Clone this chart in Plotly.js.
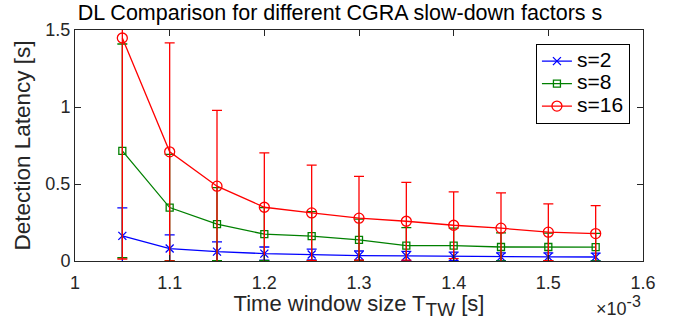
<!DOCTYPE html>
<html>
<head>
<meta charset="utf-8">
<script src="https://cdn.plot.ly/plotly-3.0.1.min.js"></script>
<style>html,body{margin:0;padding:0;background:#fff;}#chart{width:680px;height:320px;}</style>
</head>
<body>
<div id="chart"></div>
<script>
// Time window size (x 10^-3 s)
const timeWindow = [1.05, 1.10, 1.15, 1.20, 1.25, 1.30, 1.35, 1.40, 1.45, 1.50, 1.55];

// Mean detection latency [s]
const s2Mean  = [0.163, 0.081, 0.061, 0.048, 0.042, 0.035, 0.033, 0.030, 0.027, 0.027, 0.026];
const s8Mean  = [0.715, 0.347, 0.239, 0.174, 0.161, 0.137, 0.100, 0.100, 0.091, 0.091, 0.090];
const s16Mean = [1.448, 0.709, 0.486, 0.349, 0.312, 0.278, 0.258, 0.232, 0.213, 0.187, 0.178];

// Error (symmetric) [s]
const s2Err  = [0.182, 0.088, 0.063, 0.043, 0.035, 0.030, 0.030, 0.028, 0.026, 0.026, 0.025];
const s8Err  = [0.694, 0.345, 0.237, 0.172, 0.160, 0.135, 0.117, 0.113, 0.091, 0.090, 0.089];
const s16Err = [1.435, 0.708, 0.492, 0.353, 0.310, 0.272, 0.252, 0.217, 0.229, 0.184, 0.182];

const seriesNames = ['s=2', 's=8', 's=16'];
const xTickVals = [1, 1.1, 1.2, 1.3, 1.4, 1.5, 1.6];
const xTickText = ['1', '1.1', '1.2', '1.3', '1.4', '1.5', '1.6'];
const yTickVals = [0, 0.5, 1, 1.5];
const yTickText = ['0', '0.5', '1', '1.5'];

function mk(name, y, err, color, symbol, size) {
  return {
    x: timeWindow, y: y,
    name: '<span style="font-size:21px">' + name + '</span>',
    type: 'scatter', mode: 'lines+markers',
    line: {color: color, width: 1.3},
    marker: {symbol: symbol, size: size, color: color, line: {color: color, width: 1.3}},
    error_y: {type: 'data', array: err, symmetric: true, color: color, thickness: 1.3, width: 5, visible: true}
  };
}

const data = [
  mk(seriesNames[0], s2Mean, s2Err, '#0000ff', 'x-thin-open', 8),
  mk(seriesNames[1], s8Mean, s8Err, '#008000', 'square-open', 7),
  mk(seriesNames[2], s16Mean, s16Err, '#ff0000', 'circle-open', 10)
];

const font = 'Liberation Sans, Arial, sans-serif';
const layout = {
  width: 680, height: 320,
  margin: {l: 75, r: 37, t: 30, b: 59},
  paper_bgcolor: '#ffffff', plot_bgcolor: '#ffffff',
  font: {family: font, color: '#262626', size: 18},
  title: {text: 'DL Comparison for different CGRA slow-down factors s', font: {family: font, size: 21.5, color: '#000'}, x: 0.5, xanchor: 'center', y: 0.985, yanchor: 'top'},
  xaxis: {
    range: [1, 1.6], tickvals: xTickVals, ticktext: xTickText,
    ticks: 'inside', ticklen: 6, tickcolor: '#262626', mirror: 'ticks',
    showline: true, linecolor: '#262626', linewidth: 1, showgrid: false, zeroline: false,
    tickfont: {size: 18, family: font, color: '#262626'}, ticklabelstandoff: 5,
    title: {text: 'Time window size T<sub><span style="font-size:19px">TW</span></sub> [s]', font: {size: 22, family: font, color: '#262626'}, standoff: 0}
  },
  yaxis: {
    range: [0, 1.5], tickvals: yTickVals, ticktext: yTickText,
    ticks: 'inside', ticklen: 6, tickcolor: '#262626', mirror: 'ticks',
    showline: true, linecolor: '#262626', linewidth: 1, showgrid: false, zeroline: false,
    tickfont: {size: 18, family: font, color: '#262626'},
    title: {text: 'Detection Latency [s]', font: {size: 22.5, family: font, color: '#262626'}, standoff: 8}
  },
  legend: {
    x: 0.977, y: 0.94, xanchor: 'right', yanchor: 'top',
    bgcolor: '#ffffff', bordercolor: '#000', borderwidth: 1,
    font: {size: 15, family: font, color: '#000'},
    tracegroupgap: 0, itemwidth: 30
  },
  showlegend: true,
  annotations: [{
    text: '×10<sup><span style="font-size:16px">-3</span></sup>', xref: 'paper', yref: 'paper', x: 1.0, y: -0.258,
    xanchor: 'right', yanchor: 'bottom', showarrow: false,
    font: {size: 18, family: font, color: '#262626'}
  }]
};

Plotly.newPlot('chart', data, layout, {displayModeBar: false, staticPlot: true});
</script>
</body>
</html>
